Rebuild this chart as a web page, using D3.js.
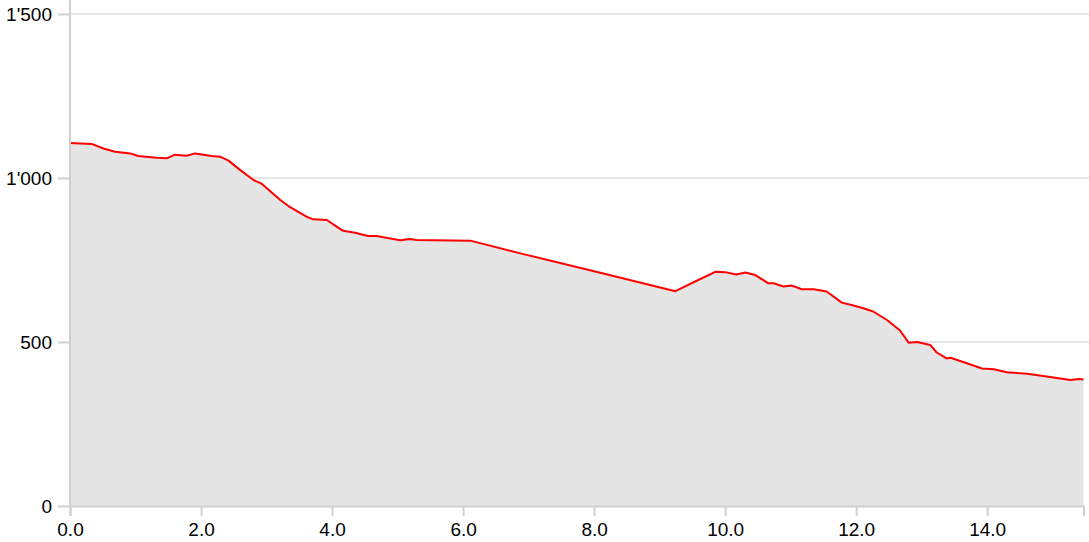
<!DOCTYPE html>
<html><head><meta charset="utf-8">
<script src="https://cdn.jsdelivr.net/npm/d3@7"></script>
<style>
body{margin:0;background:#fff;}
svg{display:block;font-family:"Liberation Sans",Arial,sans-serif;}
</style></head>
<body>
<svg id="chart" width="1089" height="542"></svg>
<script>
const distance = [0.00,0.33,0.51,0.69,0.92,1.04,1.32,1.48,1.60,1.78,1.91,2.16,2.29,2.42,2.60,2.80,2.93,3.21,3.36,3.61,3.71,3.92,4.07,4.17,4.35,4.55,4.68,5.04,5.19,5.29,6.11,6.92,8.14,9.24,9.59,9.85,10.00,10.17,10.31,10.46,10.66,10.74,10.89,11.02,11.17,11.35,11.55,11.78,11.93,12.11,12.26,12.47,12.67,12.80,12.93,13.13,13.23,13.38,13.44,13.69,13.92,14.10,14.30,14.61,14.96,15.27,15.40,15.47];
const elevation = [1107,1104,1090,1080,1075,1067,1062,1060,1071,1068,1075,1067,1065,1053,1024,994,982,933,911,882,874,872,852,839,833,823,823,810,814,811,809,768,709,655,689,714,713,706,712,704,679,679,669,672,661,661,654,620,613,603,593,567,535,498,500,491,468,450,452,435,419,417,408,403,393,384,387,386];
const xTicks = [0,2,4,6,8,10,12,14];
const yTicks = [0,500,1000,1500];

const data = distance.map((d,i)=>({d, e: elevation[i]}));
const svg = d3.select("#chart");
const mLeft = 70, mRight = 1083.5, mTop = 14, mBottom = 506;

const x = d3.scaleLinear().domain([0, d3.max(distance)]).range([mLeft, mRight]);
const y = d3.scaleLinear().domain([0, 1500]).range([mBottom, mTop]);

const loc = d3.formatLocale({decimal:".", thousands:"'", grouping:[3], currency:["",""]});
const yFmt = loc.format(",");
const xFmt = d3.format(".1f");

// gridlines
svg.append("g").selectAll("line").data(yTicks.filter(t=>t>0)).join("line")
  .attr("x1", mLeft).attr("x2", 1089)
  .attr("y1", d=>y(d)).attr("y2", d=>y(d))
  .attr("stroke", "#dcdcdc").attr("stroke-width", 1.5);

// area
svg.append("path").datum(data)
  .attr("fill", "#e5e5e5")
  .attr("d", d3.area().x(p=>x(p.d)).y0(y(0)).y1(p=>y(p.e)));

// line
svg.append("path").datum(data)
  .attr("fill", "none").attr("stroke", "#ff0000").attr("stroke-width", 2)
  .attr("stroke-linejoin", "round")
  .attr("d", d3.line().x(p=>x(p.d)).y(p=>y(p.e)));

// y axis
const yAxis = svg.append("g").attr("transform", `translate(${mLeft},0)`)
  .call(d3.axisLeft(y).tickValues(yTicks).tickFormat(yFmt).tickSize(12).tickPadding(6));
yAxis.select(".domain").remove();
yAxis.append("line").attr("x1",0).attr("x2",0).attr("y1",0).attr("y2",mBottom)
  .attr("stroke","#d0d0d0").attr("stroke-width",2);
yAxis.selectAll(".tick line").attr("stroke","#d0d0d0").attr("stroke-width",2);
yAxis.selectAll("text").attr("fill","#000").style("font-size","19px");

// x axis
const xAxis = svg.append("g").attr("transform", `translate(0,${mBottom})`)
  .call(d3.axisBottom(x).tickValues(xTicks).tickFormat(xFmt).tickSizeInner(10).tickSizeOuter(10).tickPadding(7));
xAxis.select(".domain").attr("stroke","#d0d0d0").attr("stroke-width",2);
xAxis.selectAll(".tick line").attr("stroke","#d0d0d0").attr("stroke-width",2);
xAxis.selectAll("text").attr("fill","#000").style("font-size","19px");
</script>
</body></html>
